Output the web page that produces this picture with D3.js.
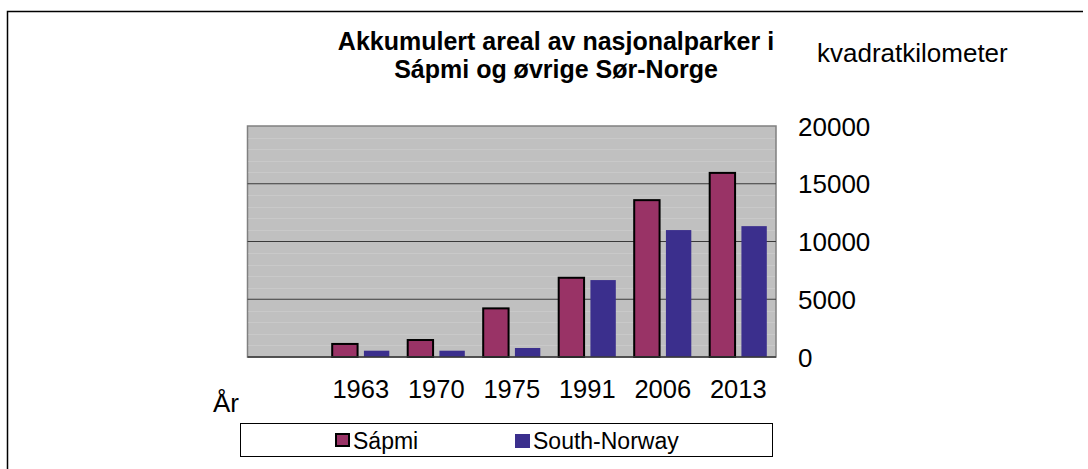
<!DOCTYPE html>
<html>
<head>
<meta charset="utf-8">
<script src="https://cdn.jsdelivr.net/npm/d3@7"></script>
<style>
  html, body { margin: 0; padding: 0; background: #fff; }
  svg { display: block; font-family: "Liberation Sans", Arial, sans-serif; }
</style>
</head>
<body>
<svg id="chart" width="1088" height="469"></svg>
<script>
// ---- data ----
const categories = ["", "1963", "1970", "1975", "1991", "2006", "2013"];
const seriesNames = ["Sápmi", "South-Norway"];
const sapmiValues = [null, 1130, 1470, 4210, 6860, 13580, 15940];
const southNorwayValues = [null, 545, 545, 780, 6660, 10990, 11330];
const yTicks = [0, 5000, 10000, 15000, 20000];
const titleLines = ["Akkumulert areal av nasjonalparker i", "Sápmi og øvrige Sør-Norge"];
const yAxisTitle = "kvadratkilometer";
const xAxisTitle = "År";

const colors = { "Sápmi": "#993366", "South-Norway": "#3b2f8d" };

const svg = d3.select("#chart");

// outer chart border (top + left visible)
svg.append("path")
  .attr("d", "M7.5,480 V11.5 H1083")
  .attr("fill", "none").attr("stroke", "#000").attr("stroke-width", 1.5);

const plot = { left: 247.5, right: 776, top: 126, bottom: 357 };

const x = d3.scaleBand().domain(categories).range([plot.left, plot.right]).padding(0);
const xs = d3.scaleBand().domain(seriesNames).range([9.2, x.bandwidth() - 9.2]).paddingInner(0.2);
const y = d3.scaleLinear().domain([0, 20000]).range([plot.bottom, plot.top]);

// plot background
svg.append("rect")
  .attr("x", plot.left).attr("y", plot.top)
  .attr("width", plot.right - plot.left).attr("height", plot.bottom - plot.top)
  .attr("fill", "#c0c0c0").attr("stroke", "#808080").attr("stroke-width", 1.5);

// faint minor bands
const minor = d3.range(1000, 20000, 1000).filter(v => v % 5000 !== 0);
svg.append("g").selectAll("line").data(minor).join("line")
  .attr("x1", plot.left + 1).attr("x2", plot.right - 1)
  .attr("y1", d => Math.round(y(d)) + 0.5).attr("y2", d => Math.round(y(d)) + 0.5)
  .attr("stroke", "#c9c9c9").attr("stroke-width", 1);

// major gridlines
svg.append("g").selectAll("line").data(yTicks.filter(v => v > 0 && v < 20000)).join("line")
  .attr("x1", plot.left).attr("x2", plot.right)
  .attr("y1", d => y(d)).attr("y2", d => y(d))
  .attr("stroke", "#3a3a3a").attr("stroke-width", 1.2);

// bars
const rows = categories.map((c, i) => ({ cat: c, vals: [
  { s: "Sápmi", v: sapmiValues[i] },
  { s: "South-Norway", v: southNorwayValues[i] }
]}));

const groups = svg.append("g").selectAll("g").data(rows).join("g")
  .attr("transform", d => `translate(${x(d.cat)},0)`);

groups.selectAll("rect").data(d => d.vals.filter(v => v.v != null)).join("rect")
  .attr("x", d => xs(d.s))
  .attr("width", xs.bandwidth())
  .attr("y", d => y(d.v))
  .attr("height", d => y(0) - y(d.v))
  .attr("fill", d => colors[d.s])
  .attr("stroke", d => d.s === "Sápmi" ? "#000" : "none")
  .attr("stroke-width", 2);

// x axis line
svg.append("line")
  .attr("x1", plot.left).attr("x2", plot.right)
  .attr("y1", plot.bottom).attr("y2", plot.bottom)
  .attr("stroke", "#3a3a3a").attr("stroke-width", 1.5);

// y axis labels (right side)
const yAxis = d3.axisRight(y).tickValues(yTicks).tickSize(0).tickPadding(0).tickFormat(d3.format("d"));
const yg = svg.append("g").attr("transform", "translate(798,0)").call(yAxis);
yg.select(".domain").remove();
yg.selectAll("text").attr("font-size", 26).attr("fill", "#000")
  .attr("font-family", "Liberation Sans, Arial, sans-serif").attr("dy", "0.35em").attr("x", 0);

// x axis labels
const xAxis = d3.axisBottom(x).tickSize(0).tickPadding(0);
const xg = svg.append("g").attr("transform", `translate(0,${plot.bottom})`).call(xAxis);
xg.select(".domain").remove();
xg.selectAll("text").attr("font-size", 25.5).attr("fill", "#000")
  .attr("font-family", "Liberation Sans, Arial, sans-serif").attr("y", 41).attr("dy", 0);

// title
svg.append("g").selectAll("text").data(titleLines).join("text")
  .attr("x", 556).attr("y", (d, i) => 50 + i * 28)
  .attr("text-anchor", "middle").attr("font-size", 25).attr("font-weight", "bold")
  .text(d => d);

// axis titles
svg.append("text").attr("x", 817).attr("y", 62).attr("font-size", 26).text(yAxisTitle);
svg.append("text").attr("x", 213).attr("y", 412).attr("font-size", 26).text(xAxisTitle);

// legend
svg.append("rect").attr("x", 240.5).attr("y", 423.5).attr("width", 532).attr("height", 33)
  .attr("fill", "#fff").attr("stroke", "#000").attr("stroke-width", 1);
const legendItems = [
  { s: "Sápmi", mx: 335, tx: 353 },
  { s: "South-Norway", mx: 515, tx: 533 }
];
const lg = svg.append("g").selectAll("g").data(legendItems).join("g");
lg.append("rect")
  .attr("x", d => d.mx + (d.s === "Sápmi" ? 1 : 0)).attr("y", 434)
  .attr("width", d => d.s === "Sápmi" ? 13 : 15).attr("height", d => d.s === "Sápmi" ? 12 : 14)
  .attr("fill", d => colors[d.s])
  .attr("stroke", d => d.s === "Sápmi" ? "#000" : "none").attr("stroke-width", 2);
lg.append("text").attr("x", d => d.tx).attr("y", 449).attr("font-size", 23).text(d => d.s);
</script>
</body>
</html>
